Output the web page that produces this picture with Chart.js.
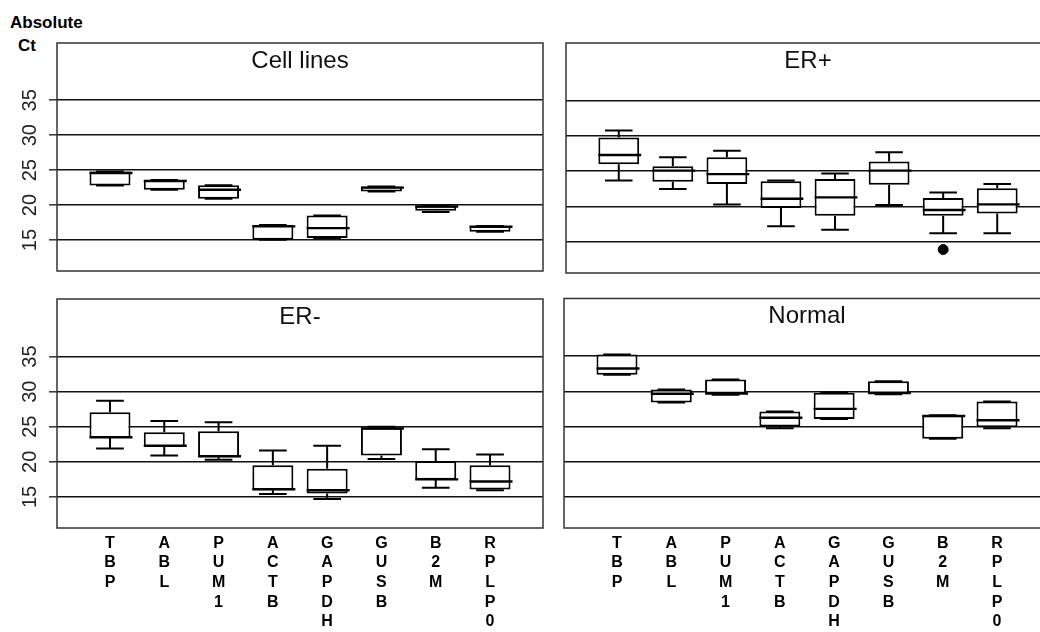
<!DOCTYPE html>
<html><head><meta charset="utf-8">
<script src="https://cdn.jsdelivr.net/npm/chart.js@4.4.1/dist/chart.umd.min.js"></script>
<style>
html,body{margin:0;padding:0;background:#fff;width:1040px;height:632px;overflow:hidden;position:relative;}
canvas{position:absolute;}
.lab{position:absolute;font:bold 17px "Liberation Sans",Arial,sans-serif;line-height:17px;color:#000;white-space:nowrap;}
</style></head>
<body>
<div class="lab" style="left:10px;top:14px;">Absolute</div>
<div class="lab" style="left:18px;top:37px;">Ct</div>
<canvas id="c1" width="560" height="290" style="left:0;top:0"></canvas>
<canvas id="c2" width="500" height="290" style="left:560px;top:0"></canvas>
<canvas id="c3" width="560" height="380" style="left:0;top:280px"></canvas>
<canvas id="c4" width="500" height="380" style="left:560px;top:280px"></canvas>
<script>
const genes = ['TBP','ABL','PUM1','ACTB','GAPDH','GUSB','B2M','RPLP0'];
const yTicks = [15,20,25,30,35];

// Cell lines
const cellMin = [22.8,22.2,20.9,15.05,15.3,21.95,19.0,16.2];
const cellQ1  = [22.8,22.2,20.9,15.05,15.3,21.95,19.2,16.2];
const cellMed = [24.6,23.45,22.2,16.95,16.7,22.5,19.8,16.9];
const cellQ3  = [24.8,23.6,22.85,17.15,18.5,22.65,19.9,17.0];
const cellMax = [24.8,23.6,22.85,17.15,18.5,22.65,19.9,17.0];

// ER+
const erpMin = [23.7,22.5,20.3,17.2,16.7,20.2,16.2,16.2];
const erpQ1  = [26.0,23.5,23.2,19.8,18.7,23.1,18.7,19.0];
const erpMed = [27.3,25.1,24.6,21.1,21.3,25.1,19.5,20.3];
const erpQ3  = [29.8,25.7,27.0,23.6,23.9,26.4,21.2,22.6];
const erpMax = [30.8,27.0,27.9,23.7,24.7,27.7,22.0,23.2];
const erpOutX = [7];
const erpOutY = [13.9];

// ER-
const ernMin = [21.9,20.9,20.3,15.4,14.7,20.4,16.3,15.95];
const ernQ1  = [23.4,22.1,20.65,15.95,15.5,20.9,17.45,16.05];
const ernMed = [23.5,22.3,20.8,16.1,15.95,24.75,17.5,17.2];
const ernQ3  = [27.05,24.2,24.35,19.5,19.0,24.85,20.1,19.5];
const ernMax = [28.7,25.8,25.65,21.6,22.3,25.0,21.8,21.05];

// Normal
const nrmMin = [32.35,28.4,29.5,24.75,26.05,29.6,23.25,24.75];
const nrmQ1  = [32.35,28.4,29.65,25.0,26.05,29.7,23.25,24.9];
const nrmMed = [33.25,29.65,29.7,26.25,27.5,29.75,26.5,25.9];
const nrmQ3  = [35.25,30.25,31.7,27.15,29.8,31.45,26.6,28.55];
const nrmMax = [35.25,30.25,31.7,27.15,29.85,31.45,26.6,28.55];

const FONT = '"Liberation Sans", Arial, sans-serif';

const boxExtras = {
  id: 'boxExtras',
  afterDatasetsDraw(chart, args, o) {
    const {ctx, chartArea: a, scales: {x, y}} = chart;
    ctx.save();
    ctx.strokeStyle = '#000';
    ctx.lineWidth = 2;
    ctx.lineCap = 'butt';
    for (let i = 0; i < o.med.length; i++) {
      const cx = x.getPixelForValue(i + 1);
      const capL = x.getPixelForValue(i + 1 - 0.255), capR = x.getPixelForValue(i + 1 + 0.255);
      const bL = x.getPixelForValue(i + 1 - 0.3775), bR = x.getPixelForValue(i + 1 + 0.3775);
      const pMin = y.getPixelForValue(o.min[i]), pQ1 = y.getPixelForValue(o.q1[i]);
      const pQ3 = y.getPixelForValue(o.q3[i]), pMax = y.getPixelForValue(o.max[i]);
      const pMed = y.getPixelForValue(o.med[i]);
      ctx.beginPath();
      ctx.moveTo(cx, pQ3); ctx.lineTo(cx, pMax);
      ctx.moveTo(cx, pQ1); ctx.lineTo(cx, pMin);
      ctx.moveTo(capL, pMax); ctx.lineTo(capR, pMax);
      ctx.moveTo(capL, pMin); ctx.lineTo(capR, pMin);
      ctx.stroke();
      ctx.lineWidth = 2.4;
      ctx.beginPath();
      ctx.moveTo(bL, pMed); ctx.lineTo(bR + 2, pMed);
      ctx.stroke();
      ctx.lineWidth = 2;
    }
    // panel border
    ctx.strokeStyle = '#333';
    ctx.lineWidth = 1.5;
    ctx.strokeRect(a.left, a.top, a.right - a.left, a.bottom - a.top);
    // panel title
    ctx.fillStyle = '#111';
    ctx.font = '24px ' + FONT;
    ctx.textAlign = 'center';
    ctx.textBaseline = 'alphabetic';
    ctx.fillText(o.title, (a.left + a.right) / 2, a.top + 24.5);
    ctx.restore();
  }
};

function makePanel(id, title, mins, q1s, meds, q3s, maxs, cfg) {
  const datasets = [{
    type: 'bar',
    data: genes.map((g, i) => ({x: i + 1, y: [q1s[i], q3s[i]]})),
    backgroundColor: '#fff',
    borderColor: '#000',
    borderWidth: 2,
    borderSkipped: false,
    barPercentage: 0.755,
    categoryPercentage: 1
  }];
  if (cfg.outX) {
    datasets.push({
      type: 'scatter',
      data: cfg.outX.map((v, i) => ({x: v, y: cfg.outY[i]})),
      pointRadius: 5,
      backgroundColor: '#000',
      borderColor: '#000'
    });
  }
  new Chart(document.getElementById(id), {
    type: 'bar',
    data: {datasets},
    plugins: [boxExtras],
    options: {
      responsive: false,
      animation: false,
      events: [],
      layout: {padding: cfg.padding},
      plugins: {
        legend: {display: false},
        tooltip: {enabled: false},
        boxExtras: {title, min: mins, q1: q1s, med: meds, q3: q3s, max: maxs}
      },
      scales: {
        x: {
          type: 'linear',
          min: 0.024, max: 8.976,
          offset: false,
          display: cfg.showX,
          afterBuildTicks: s => { s.ticks = genes.map((g, i) => ({value: i + 1})); },
          afterFit: s => { s.height = cfg.xHeight; },
          grid: {display: false, drawTicks: false},
          border: {display: false},
          ticks: {
            autoSkip: false, maxRotation: 0, minRotation: 0,
            padding: 5.5,
            color: '#000',
            font: {family: FONT, size: 16, weight: 'bold', lineHeight: 1.23},
            callback: (v, i) => genes[i] ? genes[i].split('') : ''
          }
        },
        y: {
          type: 'linear',
          min: 10.57, max: 43.2,
          afterBuildTicks: s => { s.ticks = yTicks.map(v => ({value: v})); },
          afterFit: s => { s.width = cfg.yWidth; },
          border: {display: false},
          grid: {
            color: '#111', lineWidth: 1.6,
            drawTicks: cfg.showY, tickLength: 8, tickColor: '#333', tickWidth: 1.5
          },
          ticks: {
            display: cfg.showY,
            minRotation: 90, maxRotation: 90,
            crossAlign: 'center',
            padding: 7,
            color: '#222',
            font: {family: FONT, size: 20}
          }
        }
      }
    }
  });
}

makePanel('c1', 'Cell lines', cellMin, cellQ1, cellMed, cellQ3, cellMax,
  {padding: {left: 0, top: 43, right: 17, bottom: 17}, showX: false, xHeight: 0, showY: true, yWidth: 57});
makePanel('c2', 'ER+', erpMin, erpQ1, erpMed, erpQ3, erpMax,
  {padding: {left: 0, top: 43, right: 10, bottom: 17}, showX: false, xHeight: 0, showY: false, yWidth: 4, outX: erpOutX, outY: erpOutY});
makePanel('c3', 'ER-', ernMin, ernQ1, ernMed, ernQ3, ernMax,
  {padding: {left: 0, top: 18.5, right: 17, bottom: 0}, showX: true, xHeight: 132, showY: true, yWidth: 57});
makePanel('c4', 'Normal', nrmMin, nrmQ1, nrmMed, nrmQ3, nrmMax,
  {padding: {left: 0, top: 18.5, right: 10, bottom: 0}, showX: true, xHeight: 132, showY: false, yWidth: 4});
</script>
</body></html>
